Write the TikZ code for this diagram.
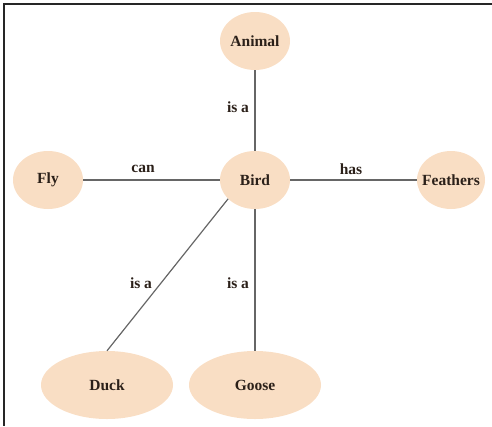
\documentclass[tikz,border=0pt]{standalone}
\usepackage{fontspec}
\setmainfont{Liberation Serif}
\usetikzlibrary{shapes.geometric}
\definecolor{nodefill}{HTML}{F9DEC4}
\definecolor{txt}{HTML}{2B2019}
\definecolor{edgecol}{HTML}{666666}
\tikzset{
  concept/.style={ellipse, fill=nodefill, inner sep=0pt, text=txt,
    font=\fontsize{15.5}{17}\selectfont\bfseries},
  small/.style={concept, minimum width=70pt, minimum height=58pt},
  big/.style={concept, minimum width=132pt, minimum height=68pt},
  link/.style={draw=edgecol, line width=1.2pt},
  lbl/.style={text=txt, inner sep=0pt, font=\fontsize{15.5}{17}\selectfont\bfseries},
  frame/.style={draw=black!85, line width=1.3pt}
}
\begin{document}
\begin{tikzpicture}[x=1pt, y=-1pt]
\useasboundingbox (0,0) rectangle (492,426);
\coordinate (f1) at (492,4);
\coordinate (f2) at (4,4);
\coordinate (f3) at (4,426);
\draw[frame] (f1) -- (f2) -- (f3);

\node[small] (animal) at (255,41) {Animal};
\node[small] (bird) at (255,180) {Bird};
\node[small] (fly) at (48,180) {Fly};
\node[small, minimum width=68pt, inner xsep=-12pt] (feathers) at (451,180) {Feathers};
\node[big] (duck) at (107,385) {Duck};
\node[big] (goose) at (255,385) {Goose};

\draw[link] (animal) -- (bird);
\draw[link] (fly) -- (bird);
\draw[link] (bird) -- (feathers);
\draw[link] (bird) -- (goose);
\draw[link] (bird.215) -- (duck.north);

\node[lbl] (l1) at (238,107) {is a};
\node[lbl] (l2) at (143,169) {can};
\node[lbl] (l3) at (351,169) {has};
\node[lbl] (l4) at (141,283) {is a};
\node[lbl] (l5) at (238,283) {is a};
\end{tikzpicture}
\end{document}
